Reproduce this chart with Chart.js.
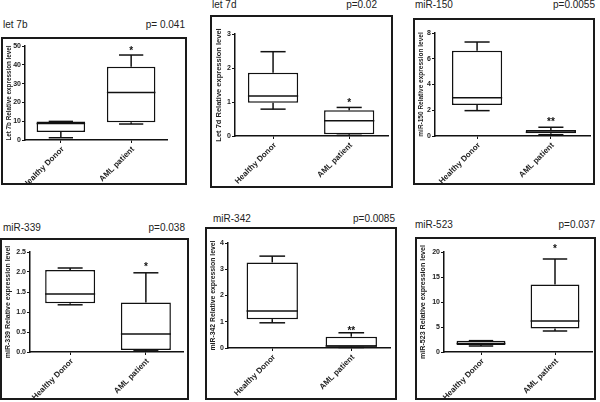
<!DOCTYPE html>
<html>
<head>
<meta charset="utf-8">
<script src="https://cdn.jsdelivr.net/npm/chart.js@4"></script>
<style>
  body { margin: 0; width: 600px; height: 402px; background: #fff; overflow: hidden; position: relative; font-family: "Liberation Sans", Arial, sans-serif; }
  .frame { position: absolute; box-sizing: border-box; border: 2px solid #1a1a1a; }
  .frame canvas { display: block; }
  .lbl { position: absolute; font-size: 10px; line-height: 12px; color: #222; white-space: nowrap; }
</style>
</head>
<body>
<script>
const groups = ["Healthy Donor", "AML patient"];

// [min, q1, median, q3, max]
const let7bHealthy = [1.2, 4.2, 8.8, 9.9, 9.9];
const let7bAML = [8.5, 9.4, 25.2, 39.0, 45.2];
const let7dHealthy = [0.79, 0.98, 1.18, 1.86, 2.48];
const let7dAML = [0.02, 0.05, 0.45, 0.76, 0.84];
const mir150Healthy = [1.97, 2.41, 2.98, 6.63, 7.3];
const mir150AML = [0.1, 0.21, 0.3, 0.47, 0.68];
const mir339Healthy = [1.18, 1.22, 1.45, 2.05, 2.1];
const mir339AML = [0.03, 0.05, 0.45, 1.24, 1.98];
const mir342Healthy = [0.96, 1.1, 1.41, 3.26, 3.5];
const mir342AML = [0.02, 0.05, 0.08, 0.43, 0.58];
const mir523Healthy = [1.2, 1.4, 1.7, 2.27, 2.27];
const mir523AML = [4.2, 4.7, 6.2, 13.5, 18.6];

const titles = ["let 7b", "let 7d", "miR-150", "miR-339", "miR-342", "miR-523"];
const pValues = ["p= 0.041", "p=0.02", "p=0.0055", "p=0.038", "p=0.0085", "p=0.037"];
const yTitles = [
  "Let 7b Relative expression level",
  "Let 7d Relative expression level",
  "miR-150 Relative expression level",
  "miR-339 Relative expression level",
  "miR-342 Relative expression level",
  "miR-523 Relative expression level",
];
const stars = ["*", "*", "**", "*", "**", "*"];
const starAt = [49, 1.06, 1.3, 2.2, 0.77, 21.2];
const yMax = [50, 3, 8, 2.5, 4, 20];
const yStep = [10, 1, 2, 0.5, 1, 5];
const yDecimals = [0, 0, 0, 1, 0, 0];

const allStats = [
  [let7bHealthy, let7bAML],
  [let7dHealthy, let7dAML],
  [mir150Healthy, mir150AML],
  [mir339Healthy, mir339AML],
  [mir342Healthy, mir342AML],
  [mir523Healthy, mir523AML],
];

// page layout: frame [l,t,r,b], plot [l,t,r,b], x range, bar fraction, y title size, title pos
const panels = [
  { frame: [1, 37, 187, 185], plot: [25, 46, 167, 140], xr: [-0.51, 1.51], bar: 0.69, yFont: 6.3, t: [3, 25], p: [185, 25] },
  { frame: [210, 15, 393, 188], plot: [235, 34, 388, 136], xr: [-0.5, 1.51], bar: 0.66, yFont: 7.5, t: [212, 5], p: [377, 5] },
  { frame: [413, 18, 595, 185], plot: [435, 33, 590, 136], xr: [-0.57, 1.53], bar: 0.68, yFont: 6.5, t: [415, 5], p: [595, 5] },
  { frame: [0, 238, 189, 400], plot: [30, 252, 183, 352], xr: [-0.53, 1.49], bar: 0.66, yFont: 7, t: [3, 228], p: [185, 228] },
  { frame: [205, 227, 397, 400], plot: [228, 243, 390, 348], xr: [-0.56, 1.49], bar: 0.65, yFont: 6.85, t: [213, 219], p: [395, 219] },
  { frame: [415, 237, 596, 400], plot: [444, 252, 592, 352], xr: [-0.5, 1.5], bar: 0.66, yFont: 7.1, t: [415, 225], p: [595, 225] },
];

const FONT = '"Liberation Sans", Arial, sans-serif';

function boxExtras(stats, star, starValue) {
  return {
    id: "boxExtras",
    afterDatasetsDraw(chart) {
      const xs = chart.scales.x;
      const ys = chart.scales.y;
      const meta = chart.getDatasetMeta(0);
      const ctx = chart.ctx;
      ctx.save();
      ctx.strokeStyle = "#111";
      ctx.lineWidth = 1.5;
      const seg = (x1, y1, x2, y2) => {
        ctx.beginPath();
        ctx.moveTo(x1, y1);
        ctx.lineTo(x2, y2);
        ctx.stroke();
      };
      stats.forEach((s, i) => {
        const bar = meta.data[i];
        const cx = bar.x, hw = bar.width / 2;
        const [mn, q1, md, q3, mx] = s.map((v) => ys.getPixelForValue(v));
        seg(cx, mn, cx, q1);
        seg(cx, q3, cx, mx);
        seg(cx - hw / 2, mn, cx + hw / 2, mn);
        seg(cx - hw / 2, mx, cx + hw / 2, mx);
        seg(cx - hw, md, cx + hw, md);
      });
      ctx.fillStyle = "#111";
      ctx.font = "bold 10px " + FONT;
      ctx.textAlign = "center";
      ctx.textBaseline = "alphabetic";
      ctx.fillText(star, meta.data[1].x, ys.getPixelForValue(starValue) + 6);

      // rotated category labels under the ticks
      ctx.fillStyle = "#222";
      ctx.font = "bold 8px " + FONT;
      ctx.textAlign = "right";
      ctx.textBaseline = "middle";
      groups.forEach((g, i) => {
        ctx.save();
        ctx.translate(xs.getPixelForValue(i) + 2, xs.top + 8);
        ctx.rotate(-Math.PI / 4);
        ctx.fillText(g, 0, 0);
        ctx.restore();
      });
      ctx.restore();
    },
  };
}

function addText(txt, x, cy, right) {
  const s = document.createElement("div");
  s.className = "lbl";
  s.textContent = txt;
  s.style.top = cy - 6 + "px";
  if (right) s.style.right = 600 - x + "px";
  else s.style.left = x + "px";
  document.body.appendChild(s);
}

panels.forEach((p, k) => {
  const [fl, ft, fr, fb] = p.frame;
  const [pl, pt, pr, pb] = p.plot;
  const div = document.createElement("div");
  div.className = "frame";
  div.style.left = fl + "px";
  div.style.top = ft + "px";
  div.style.width = fr - fl + "px";
  div.style.height = fb - ft + "px";
  const cv = document.createElement("canvas");
  cv.width = fr - fl - 4;
  cv.height = fb - ft - 4;
  div.appendChild(cv);
  document.body.appendChild(div);

  addText(titles[k], p.t[0], p.t[1], false);
  addText(pValues[k], p.p[0], p.p[1], true);

  const stats = allStats[k];
  const axisGrid = { drawOnChartArea: false, drawTicks: true, tickLength: 3, color: "#111", lineWidth: 1, offset: false };
  const axisBorder = { display: true, color: "#111", width: 1.5 };

  new Chart(cv, {
    type: "bar",
    data: {
      datasets: [
        {
          data: groups.map((g, i) => ({ x: i, y: [stats[i][1], stats[i][3]] })),
          backgroundColor: "#fff",
          borderColor: "#111",
          borderWidth: 1.5,
          borderSkipped: false,
          barPercentage: p.bar,
          categoryPercentage: 1,
        },
      ],
    },
    options: {
      responsive: false,
      animation: false,
      events: [],
      layout: {
        padding: { left: 0, top: pt - ft - 2, right: fr - 2 - pr, bottom: 0 },
      },
      plugins: {
        legend: { display: false },
        tooltip: { enabled: false },
      },
      scales: {
        x: {
          type: "linear",
          min: p.xr[0],
          max: p.xr[1],
          offset: false,
          afterBuildTicks: (s) => {
            s.ticks = [{ value: 0 }, { value: 1 }];
          },
          afterFit: (s) => {
            s.height = fb - 2 - pb;
          },
          grid: axisGrid,
          border: axisBorder,
          ticks: { display: false },
        },
        y: {
          min: 0,
          max: yMax[k],
          afterFit: (s) => {
            s.width = pl - fl - 2;
          },
          grid: axisGrid,
          border: axisBorder,
          ticks: {
            stepSize: yStep[k],
            padding: 1,
            color: "#222",
            font: { family: FONT, size: 7, weight: "bold" },
            callback: (v) => v.toFixed(yDecimals[k]),
          },
          title: {
            display: true,
            text: yTitles[k],
            color: "#222",
            font: { family: FONT, size: p.yFont, weight: "bold" },
            padding: { top: 2, bottom: 0 },
          },
        },
      },
    },
    plugins: [boxExtras(stats, stars[k], starAt[k])],
  });
});
</script>
</body>
</html>
